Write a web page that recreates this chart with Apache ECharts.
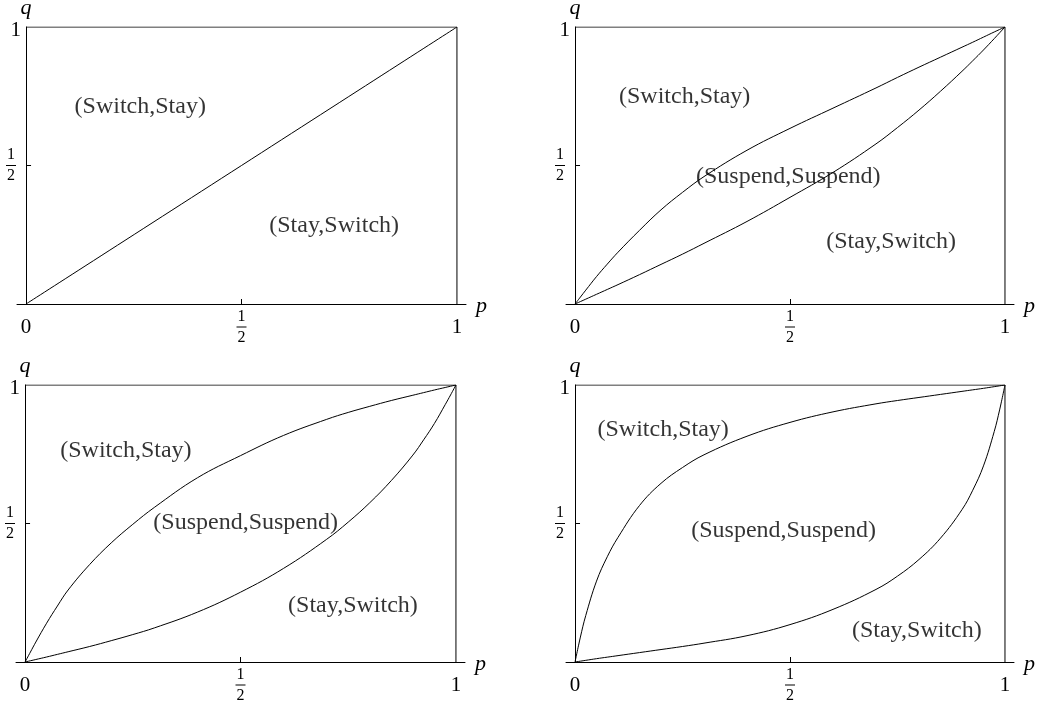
<!DOCTYPE html>
<html>
<head>
<meta charset="utf-8">
<script src="https://cdn.jsdelivr.net/npm/echarts@6/dist/echarts.min.js"></script>
<style>
html,body{margin:0;padding:0;background:#fff;}
#chart{width:1043px;height:706px;}
</style>
</head>
<body>
<div id="chart"></div>
<script>
// ---- data ----
const pGrid = [0, 0.0125, 0.025, 0.05, 0.075, 0.1, 0.15, 0.2, 0.25, 0.3, 0.4, 0.5, 0.6, 0.7, 0.75, 0.8, 0.85, 0.9, 0.925, 0.95, 0.975, 0.9875, 1];

// panel 1 : single boundary (straight diagonal)
const panel1P = [0, 1];
const panel1Q = [0, 1];

// panel 2
const panel2Upper = [0, 0.025, 0.05, 0.099, 0.144, 0.187, 0.266, 0.34, 0.403, 0.46, 0.555, 0.634, 0.707, 0.78, 0.818, 0.855, 0.891, 0.927, 0.945, 0.9635, 0.982, 0.991, 1];
const panel2Lower = [0, 0.00875, 0.0175, 0.035, 0.0525, 0.07, 0.106, 0.143, 0.18, 0.219, 0.298, 0.385, 0.475, 0.578, 0.637, 0.70, 0.768, 0.84, 0.878, 0.917, 0.958, 0.979, 1];

// panel 3
const panel3Upper = [0, 0.036, 0.072, 0.14, 0.202, 0.26, 0.352, 0.43, 0.497, 0.558, 0.665, 0.745, 0.818, 0.876, 0.901, 0.923, 0.944, 0.963, 0.9725, 0.982, 0.991, 0.9955, 1];
const panel3Lower = [0, 0.0045, 0.009, 0.018, 0.0275, 0.037, 0.056, 0.077, 0.099, 0.123, 0.18, 0.252, 0.338, 0.443, 0.505, 0.575, 0.655, 0.747, 0.802, 0.861, 0.929, 0.964, 1];

// panel 4
const panel4Upper = [0, 0.09, 0.168, 0.292, 0.38, 0.45, 0.565, 0.645, 0.702, 0.748, 0.815, 0.865, 0.903, 0.932, 0.944, 0.955, 0.966, 0.977, 0.9825, 0.988, 0.994, 0.997, 1];
const panel4Lower = [0, 0.003, 0.006, 0.012, 0.0175, 0.023, 0.034, 0.045, 0.056, 0.068, 0.095, 0.135, 0.19, 0.262, 0.31, 0.37, 0.447, 0.55, 0.62, 0.708, 0.832, 0.91, 1];

// frame (top and right edges of each box)
const frameP = [0, 1, 1];
const frameQ = [1, 1, 0];

// tick labels
const xTickValues = [0, 0.5, 1];
const yTickValues = [0.5, 1];
const tickText = { 0: '0', 0.5: '1/2', 1: '1' };

// region annotations
const regionNames = ['(Switch,Stay)', '(Suspend,Suspend)', '(Stay,Switch)'];
const panel1Labels = [[0.265, 0.711, regionNames[0]], [0.715, 0.282, regionNames[2]]];
const panel2Labels = [[0.255, 0.747, regionNames[0]], [0.496, 0.46, regionNames[1]], [0.735, 0.225, regionNames[2]]];
const panel3Labels = [[0.234, 0.762, regionNames[0]], [0.512, 0.502, regionNames[1]], [0.761, 0.202, regionNames[2]]];
const panel4Labels = [[0.205, 0.838, regionNames[0]], [0.485, 0.473, regionNames[1]], [0.795, 0.114, regionNames[2]]];

// ---- chart ----
const FONT = '"Liberation Serif", "DejaVu Serif", serif';
const zip = (ps, qs) => ps.map((p, i) => [p, qs[i]]);

const grids = [
  { left: 17, top: 27, width: 449, height: 277, outerBoundsMode: 'none', containLabel: false },
  { left: 566, top: 27, width: 448, height: 277, outerBoundsMode: 'none', containLabel: false },
  { left: 16, top: 385, width: 449, height: 277, outerBoundsMode: 'none', containLabel: false },
  { left: 566, top: 385, width: 448, height: 277, outerBoundsMode: 'none', containLabel: false }
];

function xLabel(v) {
  const t = tickText[v];
  if (t === '1/2') return '{num|1}\n{bar| }\n{den|2}';
  return '{big|' + t + '}';
}
function yLabel(v) {
  const t = tickText[v];
  if (t === '1/2') return '{num|1}{sp| }\n{bar| }{sp| }\n{den|2}{sp| }';
  return '{big|' + t + '}';
}

const fracRich = {
  num: { fontSize: 16, fontFamily: FONT, color: '#000', lineHeight: 16, width: 10, align: 'center' },
  bar: { fontSize: 1, width: 10, height: 1, lineHeight: 5, backgroundColor: '#000' },
  den: { fontSize: 16, fontFamily: FONT, color: '#000', lineHeight: 16, width: 10, align: 'center' },
  sp: { fontSize: 1, width: 5 }
};

const xAxes = grids.map((g, i) => ({
  type: 'value', gridIndex: i, min: -0.021, max: 1.021,
  name: 'p', nameLocation: 'end', nameGap: 10,
  nameTextStyle: { fontFamily: FONT, fontStyle: 'italic', fontSize: 22, color: '#000', lineHeight: 4, verticalAlign: 'top' },
  axisLine: { show: true, onZero: false, lineStyle: { color: '#000', width: 1 } },
  axisTick: { show: true, inside: true, length: 5, customValues: [0.5], lineStyle: { color: '#000' } },
  axisLabel: {
    show: true, customValues: xTickValues, margin: 23, verticalAlign: 'middle',
    formatter: xLabel,
    rich: Object.assign({ big: { fontSize: 21, fontFamily: FONT, color: '#000' } }, fracRich)
  },
  splitLine: { show: false }
}));

const yAxes = grids.map((g, i) => ({
  type: 'value', gridIndex: i, min: 0, max: 1,
  name: 'q', nameLocation: 'end', nameGap: 8,
  nameTextStyle: { fontFamily: FONT, fontStyle: 'italic', fontSize: 22, color: '#000' },
  axisLine: { show: true, onZero: true, lineStyle: { color: '#000', width: 1 } },
  axisTick: { show: true, inside: true, length: 5, customValues: [0.5], lineStyle: { color: '#000' } },
  axisLabel: {
    show: true, customValues: yTickValues, margin: -4, verticalAlign: 'middle',
    formatter: yLabel,
    rich: Object.assign({ big: { fontSize: 21, fontFamily: FONT, color: '#000', padding: [6, 0, 0, 0] } }, fracRich)
  },
  splitLine: { show: false }
}));

const curveStyle = { color: '#000', width: 1 };
function curve(i, data) {
  return {
    type: 'line', xAxisIndex: i, yAxisIndex: i, data: data,
    showSymbol: false, symbol: 'none', smooth: 0.4,
    lineStyle: curveStyle, silent: true, animation: false
  };
}
function frame(i) {
  return {
    type: 'line', xAxisIndex: i, yAxisIndex: i, data: zip(frameP, frameQ),
    symbol: 'none', lineStyle: { color: '#000', width: 1 }, silent: true, animation: false
  };
}
function labels(i, arr) {
  return {
    type: 'scatter', xAxisIndex: i, yAxisIndex: i, symbolSize: 0, silent: true, animation: false,
    data: arr.map(a => ({ value: [a[0], a[1]], name: a[2] })),
    label: { show: true, position: 'inside', formatter: '{b}', fontFamily: FONT, fontSize: 24, color: '#000' }
  };
}

const series = [
  frame(0), curve(0, zip(panel1P, panel1Q)), labels(0, panel1Labels),
  frame(1), curve(1, zip(pGrid, panel2Upper)), curve(1, zip(pGrid, panel2Lower)), labels(1, panel2Labels),
  frame(2), curve(2, zip(pGrid, panel3Upper)), curve(2, zip(pGrid, panel3Lower)), labels(2, panel3Labels),
  frame(3), curve(3, zip(pGrid, panel4Upper)), curve(3, zip(pGrid, panel4Lower)), labels(3, panel4Labels)
];

const chart = echarts.init(document.getElementById('chart'), null, { renderer: 'canvas' });
chart.setOption({
  backgroundColor: '#fff',
  animation: false,
  grid: grids,
  xAxis: xAxes,
  yAxis: yAxes,
  series: series
});
</script>
</body>
</html>
